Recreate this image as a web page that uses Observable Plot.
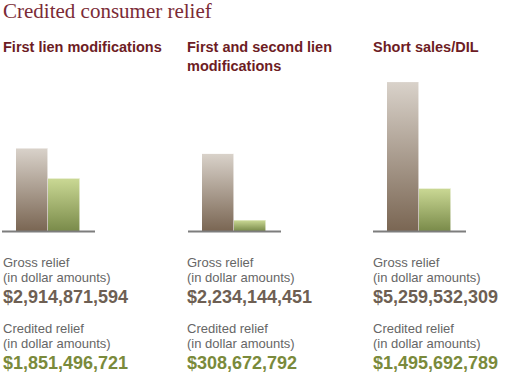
<!DOCTYPE html>
<html>
<head>
<meta charset="utf-8">
<script src="https://cdn.jsdelivr.net/npm/d3@7"></script>
<script src="https://cdn.jsdelivr.net/npm/@observablehq/plot@0.6"></script>
<style>
  html, body { margin: 0; padding: 0; background: #fff; }
  #root { position: relative; width: 520px; height: 373px; overflow: hidden; font-family: "Liberation Sans", Arial, sans-serif; }
  .title { position: absolute; left: 3px; top: 0px; font-family: "Liberation Serif", "Times New Roman", serif; font-size: 21px; line-height: 22px; color: #7b2b36; white-space: nowrap; }
  .head { position: absolute; top: 38px; font-weight: bold; font-size: 14.5px; line-height: 18.5px; color: #6d1c24; }
  .lab { position: absolute; font-size: 13px; line-height: 15px; color: #666666; white-space: nowrap; }
  .val { position: absolute; font-size: 18px; line-height: 20px; font-weight: bold; white-space: nowrap; }
  .gross { color: #6e5f53; }
  .cred { color: #7a8a3b; }
</style>
</head>
<body>
<div id="root"></div>
<script>
const title = "Credited consumer relief";
const panels = ["First lien modifications", "First and second lien modifications", "Short sales/DIL"];
const grossRelief = [2914871594, 2234144451, 5259532309];
const creditedRelief = [1851496721, 308672792, 1495692789];
const grossLabel = ["Gross relief", "(in dollar amounts)"];
const creditedLabel = ["Credited relief", "(in dollar amounts)"];
const series = ["Gross", "Credited"];
// per-panel vertical extent (as drawn in the original graphic)
const panelYMax = [5.51e9, 4.52e9, 5.51e9];

const colLeft = [3, 187, 373];
const chartLeft = [2, 188, 373];
const headWidth = [180, 180, 146];

const root = document.getElementById("root");
const t = document.createElement("div");
t.className = "title"; t.textContent = title; root.appendChild(t);

const fmt = v => "$" + d3.format(",")(v);

panels.forEach((name, i) => {
  const x0 = colLeft[i];
  const h = document.createElement("div");
  h.className = "head";
  h.style.left = x0 + "px";
  h.style.width = headWidth[i] + "px";
  h.textContent = name;
  root.appendChild(h);

  const data = [
    {panel: name, series: series[0], value: grossRelief[i]},
    {panel: name, series: series[1], value: creditedRelief[i]}
  ];

  const chart = Plot.plot({
    width: 93,
    height: 158,
    marginTop: 0, marginBottom: 0, marginLeft: 0, marginRight: 0,
    x: {domain: series, range: [14, 78], padding: 0, axis: null},
    y: {domain: [0, panelYMax[i]], range: [156, 0], axis: null},
    marks: [
      Plot.barY(data, {
        x: "series", y: "value",
        fill: d => d.series === "Gross" ? "url(#gBrown)" : "url(#gGreen)"
      }),
      Plot.barY(data, {
        x: "series", y: "value", fill: "rgba(255,255,255,0.55)", insetLeft: 31
      }),
      Plot.ruleY([0], {stroke: "#7d7d7d", strokeWidth: 2})
    ]
  });
  const defs = d3.select(chart).insert("defs", ":first-child");
  const mk = (id, c1, c2) => {
    const g = defs.append("linearGradient").attr("id", id).attr("x1", 0).attr("y1", 0).attr("x2", 0).attr("y2", 1);
    g.append("stop").attr("offset", "0%").attr("stop-color", c1);
    g.append("stop").attr("offset", "100%").attr("stop-color", c2);
  };
  mk("gBrown", "#d9d2ca", "#7a6653");
  mk("gGreen", "#cad894", "#7a8b4a");
  chart.style.position = "absolute";
  chart.style.left = chartLeft[i] + "px";
  chart.style.top = "75px";
  root.appendChild(chart);

  const addLab = (lines, top) => {
    const d = document.createElement("div");
    d.className = "lab";
    d.style.left = x0 + "px"; d.style.top = top + "px";
    d.innerHTML = lines.join("<br>");
    root.appendChild(d);
  };
  const addVal = (txt, cls, top) => {
    const d = document.createElement("div");
    d.className = "val " + cls;
    d.style.left = x0 + "px"; d.style.top = top + "px";
    d.textContent = txt;
    root.appendChild(d);
  };
  addLab(grossLabel, 255);
  addVal(fmt(grossRelief[i]), "gross", 287);
  addLab(creditedLabel, 321);
  addVal(fmt(creditedRelief[i]), "cred", 353);
});
</script>
</body>
</html>
